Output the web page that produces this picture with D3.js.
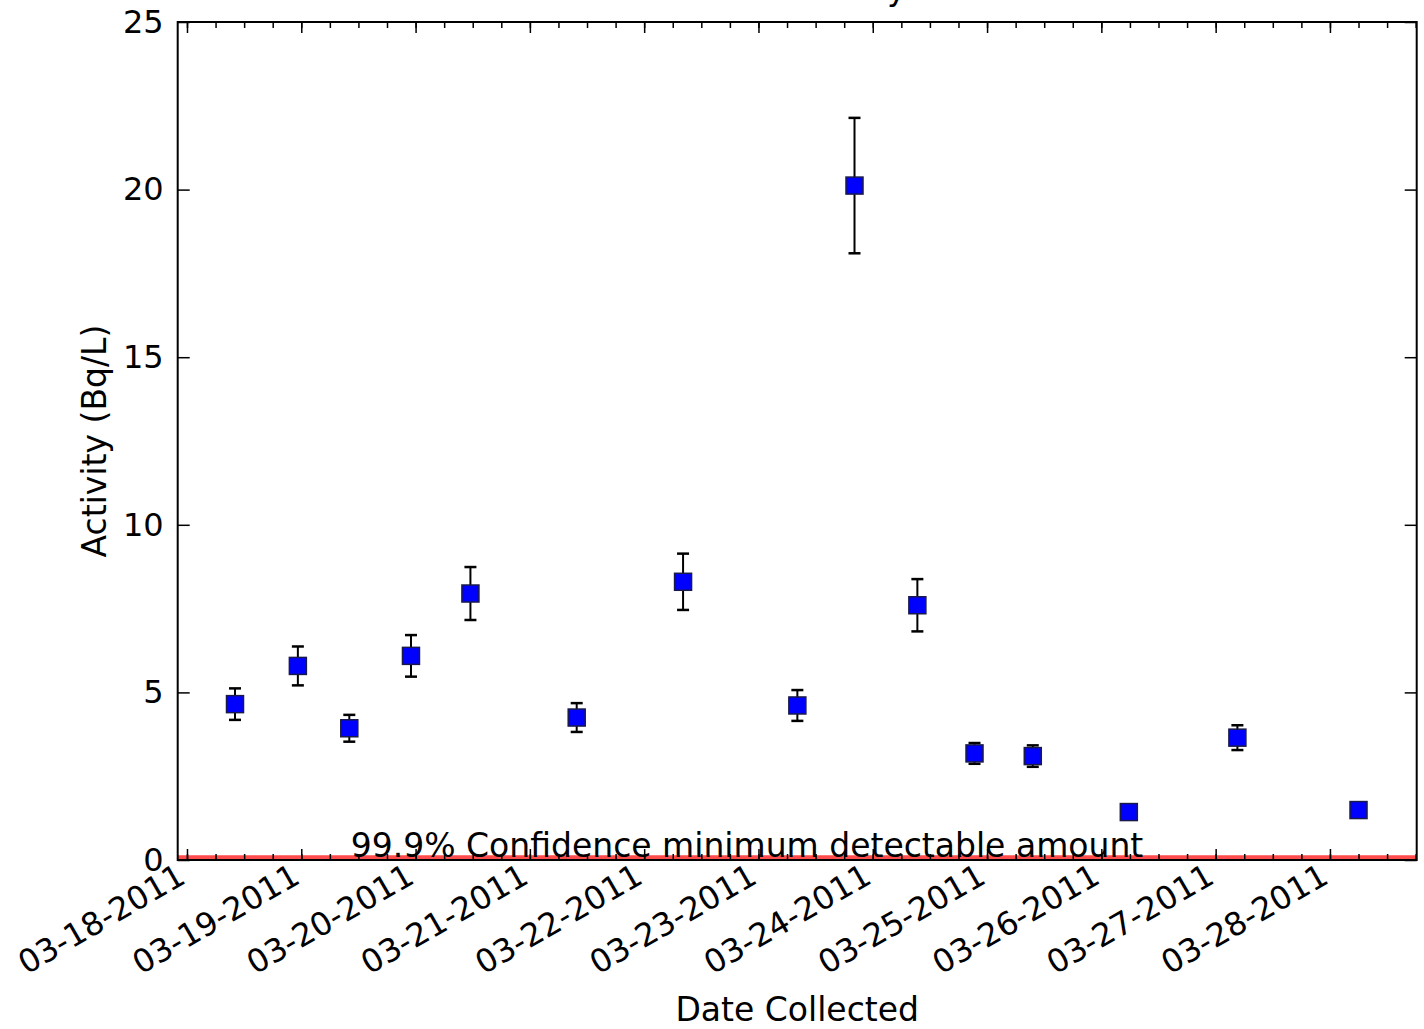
<!DOCTYPE html>
<html>
<head>
<meta charset="utf-8">
<script src="https://cdn.jsdelivr.net/npm/d3@7"></script>
<style>
  body { margin: 0; background: #fff; }
  text { font-family: "DejaVu Sans", sans-serif; fill: #000; }
</style>
</head>
<body>
<div class="container"></div>
<script>
// sample collection times (UTC) and measured activity
const dates = [
  '2011-03-18T10:05Z', '2011-03-18T23:17Z', '2011-03-19T10:05Z', '2011-03-19T23:02Z',
  '2011-03-20T11:31Z', '2011-03-21T09:50Z', '2011-03-22T08:10Z', '2011-03-23T08:10Z',
  '2011-03-23T20:10Z', '2011-03-24T09:22Z', '2011-03-24T21:22Z', '2011-03-25T09:36Z',
  '2011-03-26T05:46Z', '2011-03-27T04:34Z', '2011-03-28T06:00Z'
];
const activity = [4.65, 5.79, 3.93, 6.09, 7.95, 4.25, 8.30, 4.61, 20.12, 7.60, 3.18, 3.10, 1.43, 3.65, 1.49];
const errors = [0.47, 0.58, 0.40, 0.62, 0.79, 0.43, 0.84, 0.46, 2.02, 0.78, 0.31, 0.32, 0.10, 0.37, 0.10];
const mda = 0.08;
const mdaLabel = '99.9% Confidence minimum detectable amount';
const yTicks = [0, 5, 10, 15, 20, 25];
const xDomain = ['2011-03-17T22:03Z', '2011-03-28T18:13Z'];

const width = 1424;
const height = 1029;
const margin = { top: 22, right: 7.3, bottom: 169, left: 177.7 };
const tickFont = '32px';
const labelFont = '33px';

const svg = d3
  .select('.container')
  .append('svg')
  .attr('width', width)
  .attr('height', height);

const x = d3
  .scaleUtc()
  .domain(xDomain.map((d) => new Date(d)))
  .range([margin.left, width - margin.right]);

const y = d3
  .scaleLinear()
  .domain([0, 25])
  .range([height - margin.bottom, margin.top]);

const points = dates.map((d, i) => ({ date: new Date(d), value: activity[i], err: errors[i] }));

// title, mostly above the visible area (cut off in the original too)
svg
  .append('text')
  .attr('x', (x.range()[0] + x.range()[1]) / 2)
  .attr('y', 0)
  .attr('text-anchor', 'middle')
  .style('font-size', labelFont)
  .text('I-131 Activity');

// minimum detectable amount line
svg
  .append('line')
  .attr('x1', x.range()[0])
  .attr('x2', x.range()[1])
  .attr('y1', y(mda))
  .attr('y2', y(mda))
  .attr('stroke', '#ff0000')
  .attr('stroke-opacity', 0.7)
  .attr('stroke-width', 4);

svg
  .append('text')
  .attr('x', 747)
  .attr('y', y(mda))
  .attr('text-anchor', 'middle')
  .style('font-size', labelFont)
  .text(mdaLabel);

// axes: ticks point inward on all sides
const plotBottom = y.range()[0];
const plotTop = y.range()[1];

const xMajor = d3.axisBottom(x).ticks(d3.utcDay.every(1)).tickSize(-11).tickPadding(0).tickFormat(d3.utcFormat('%m-%d-%Y'));
const xMinor = d3.axisBottom(x).ticks(d3.utcHour.every(6)).tickSize(-6).tickFormat('');

svg
  .append('g')
  .attr('transform', `translate(0,${plotBottom})`)
  .call(xMinor);
const gxMajor = svg
  .append('g')
  .attr('transform', `translate(0,${plotBottom})`)
  .call(xMajor);
gxMajor
  .selectAll('text')
  .style('font-size', tickFont)
  .attr('text-anchor', 'end')
  .attr('dy', null)
  .attr('y', null)
  .attr('transform', 'translate(0,22) rotate(-30)');

svg
  .append('g')
  .attr('transform', `translate(0,${plotTop})`)
  .call(d3.axisTop(x).ticks(d3.utcHour.every(6)).tickSize(-6).tickFormat(''));
svg
  .append('g')
  .attr('transform', `translate(0,${plotTop})`)
  .call(d3.axisTop(x).ticks(d3.utcDay.every(1)).tickSize(-11).tickFormat(''));

svg
  .append('g')
  .attr('transform', `translate(${x.range()[0]},0)`)
  .call(d3.axisLeft(y).tickValues(yTicks).tickSize(-12).tickPadding(14))
  .selectAll('text')
  .style('font-size', tickFont);

svg
  .append('g')
  .attr('transform', `translate(${x.range()[1]},0)`)
  .call(d3.axisRight(y).tickValues(yTicks).tickSize(-12).tickFormat(''));

svg.selectAll('.domain').remove();
svg.selectAll('.tick line').attr('stroke', '#000').attr('stroke-width', 1.5);

// frame
svg
  .append('rect')
  .attr('x', x.range()[0])
  .attr('y', plotTop)
  .attr('width', x.range()[1] - x.range()[0])
  .attr('height', plotBottom - plotTop)
  .attr('fill', 'none')
  .attr('stroke', '#000')
  .attr('stroke-width', 2);

// error bars
const bars = svg.append('g').attr('class', 'errorbars');
bars
  .selectAll('line.stem')
  .data(points)
  .join('line')
  .attr('class', 'stem')
  .attr('x1', (d) => x(d.date))
  .attr('x2', (d) => x(d.date))
  .attr('y1', (d) => y(d.value - d.err))
  .attr('y2', (d) => y(d.value + d.err))
  .attr('stroke', '#000')
  .attr('stroke-width', 2);

[-1, 1].forEach((s) => {
  bars
    .selectAll(`line.cap${s}`)
    .data(points)
    .join('line')
    .attr('class', `cap${s}`)
    .attr('x1', (d) => x(d.date) - 6)
    .attr('x2', (d) => x(d.date) + 6)
    .attr('y1', (d) => y(d.value + s * d.err))
    .attr('y2', (d) => y(d.value + s * d.err))
    .attr('stroke', '#000')
    .attr('stroke-width', 2.5);
});

// markers
const ms = 17;
svg
  .append('g')
  .selectAll('rect')
  .data(points)
  .join('rect')
  .attr('x', (d) => x(d.date) - ms / 2)
  .attr('y', (d) => y(d.value) - ms / 2)
  .attr('width', ms)
  .attr('height', ms)
  .attr('fill', '#0000ff')
  .attr('stroke', '#1a1a4a')
  .attr('stroke-width', 1.5);

// axis labels
svg
  .append('text')
  .attr('x', (x.range()[0] + x.range()[1]) / 2)
  .attr('y', 1021)
  .attr('text-anchor', 'middle')
  .style('font-size', labelFont)
  .text('Date Collected');

svg
  .append('text')
  .attr('transform', `translate(106,${(plotTop + plotBottom) / 2}) rotate(-90)`)
  .attr('text-anchor', 'middle')
  .style('font-size', labelFont)
  .text('Activity (Bq/L)');
</script>
</body>
</html>
